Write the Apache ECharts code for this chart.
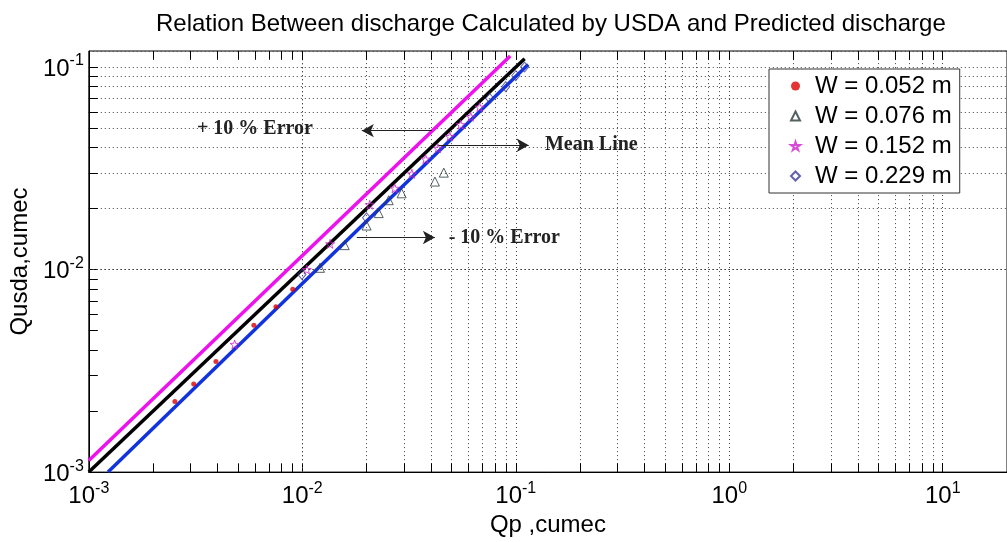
<!DOCTYPE html>
<html>
<head>
<meta charset="utf-8">
<script src="https://cdn.jsdelivr.net/npm/echarts@6/dist/echarts.min.js"></script>
<style>
  html, body { margin: 0; padding: 0; background: #fff; }
  #chart { width: 1007px; height: 542px; }
</style>
</head>
<body>
<div id="chart"></div>
<script>
// W = 0.052 m (red dots)
var w052X = [0.00253, 0.0031, 0.00394, 0.00593, 0.00752, 0.00902];
var w052Y = [0.00223, 0.00272, 0.00352, 0.00531, 0.00655, 0.0080];
// W = 0.076 m (triangles)
var w076X = [0.0121, 0.0158, 0.0200, 0.0228, 0.0254, 0.0292, 0.0418, 0.0460];
var w076Y = [0.0102, 0.0132, 0.0165, 0.0190, 0.0220, 0.0238, 0.0272, 0.0301];
// W = 0.152 m (stars)
var w152X = [0.00482, 0.0105, 0.0135, 0.0207, 0.0271, 0.0326, 0.0378, 0.0432, 0.0491, 0.0552, 0.0615, 0.0677];
var w152Y = [0.00427, 0.0100, 0.0134, 0.0209, 0.0252, 0.0297, 0.0351, 0.0397, 0.0454, 0.0519, 0.0568, 0.0634];
// W = 0.229 m (diamonds)
var w229X = [0.00996, 0.0200, 0.0755, 0.0897, 0.100, 0.110];
var w229Y = [0.00946, 0.0180, 0.0700, 0.0800, 0.0906, 0.100];

// reference lines (end points)
var meanX = [0.001, 0.11];
var meanY = [0.001, 0.11];
var plusX = [0.001, 0.0942];
var plusY = [0.00114, 0.1135];
var minusX = [0.00123, 0.1143];
var minusY = [0.001, 0.1028];

var seriesNames = ["W = 0.052 m", "W = 0.076 m", "W = 0.152 m", "W = 0.229 m"];

// axis ticks / grid
var minorMantissa = [2, 3, 4, 5, 6, 7, 8, 9];
var xDecades = [0.001, 0.01, 0.1, 1, 10];
var yDecades = [0.001, 0.01];
var xMin = 0.001, xMax = 20, yMin = 0.001, yMax = 0.12;
var tickX = 1.102, tickY = 1.105; // tick length as a ratio on the log axes

var font = "Liberation Sans, Arial, sans-serif";
var serif = "Liberation Serif, Times New Roman, serif";
var starPath = "path://M50,0 L61,35 L98,35 L68,57 L79,91 L50,70 L21,91 L32,57 L2,35 L39,35 Z";

function pairs(xs, ys) {
  return xs.map(function(x, i) { return [x, ys[i]]; });
}

function minorValues(decades, max) {
  var out = [];
  decades.forEach(function(d) {
    minorMantissa.forEach(function(m) {
      var v = +(d * m).toPrecision(6);
      if (v < max) out.push(v);
    });
  });
  return out;
}

function powLabel(v) {
  var e = Math.log10(v);
  var r = Math.round(e);
  if (Math.abs(e - r) > 1e-6) return "";
  return "{b|10}{s|" + r + "}";
}

var richLabel = {
  b: { fontSize: 24, fontFamily: font, color: "#000", verticalAlign: "bottom", lineHeight: 28 },
  s: { fontSize: 16, fontFamily: font, color: "#000", verticalAlign: "top", lineHeight: 18 },
};

var gridLine = { color: "#444", width: 1, type: [1, 3] };
var tickLine = { color: "#000", width: 1, type: "solid" };

var xMinor = minorValues(xDecades, xMax);
var yMinor = minorValues(yDecades, yMax);

var gridMarks = [];
xMinor.forEach(function(v) { gridMarks.push({ xAxis: v }); });
yMinor.forEach(function(v) { gridMarks.push({ yAxis: v }); });
// minor ticks on bottom / left, all ticks on top
xMinor.forEach(function(v) {
  gridMarks.push([{ coord: [v, yMin], lineStyle: tickLine }, { coord: [v, yMin * tickY] }]);
});
xMinor.concat(xDecades).forEach(function(v) {
  gridMarks.push([{ coord: [v, yMax], lineStyle: tickLine }, { coord: [v, yMax / tickY] }]);
});
yMinor.forEach(function(v) {
  gridMarks.push([{ coord: [xMin, v], lineStyle: tickLine }, { coord: [xMin * tickX, v] }]);
});

var chart = echarts.init(document.getElementById("chart"));

var option = {
  animation: false,
  backgroundColor: "#fff",
  title: {
    text: "Relation Between discharge Calculated by USDA and Predicted discharge",
    left: 156,
    top: 12,
    padding: 0,
    textStyle: { fontFamily: font, fontSize: 24, fontWeight: "normal", color: "#000" },
  },
  legend: {
    data: seriesNames,
    orient: "vertical",
    left: 769,
    top: 69,
    padding: [5, 8, 5, 21],
    itemGap: 6,
    itemWidth: 9,
    itemHeight: 9,
    backgroundColor: "#fff",
    borderColor: "#333",
    borderWidth: 1,
    borderRadius: 0,
    textStyle: { fontFamily: font, fontSize: 24, color: "#000", lineHeight: 24, padding: [0, 0, 0, 10] },
  },
  grid: {
    left: 87,
    right: 0,
    top: 51,
    bottom: 62,
    show: true,
    borderColor: "#000",
    borderWidth: 1,
  },
  xAxis: {
    type: "log",
    logBase: 10,
    min: xMin,
    max: xMax,
    name: "Qp ,cumec",
    nameLocation: "middle",
    nameGap: 36,
    nameTextStyle: { fontFamily: font, fontSize: 24, color: "#000" },
    axisLine: { show: true, onZero: false, lineStyle: { color: "#000", width: 1 } },
    axisTick: { show: true, inside: true, length: 9, lineStyle: { color: "#000" } },
    axisLabel: { margin: 8, formatter: powLabel, rich: richLabel, showMaxLabel: false },
    splitLine: { show: true, lineStyle: gridLine },
  },
  yAxis: {
    type: "log",
    logBase: 10,
    min: yMin,
    max: yMax,
    name: "Qusda,cumec",
    nameLocation: "middle",
    nameGap: 54,
    nameRotate: 90,
    nameTextStyle: { fontFamily: font, fontSize: 24, color: "#000" },
    axisLine: { show: true, onZero: false, lineStyle: { color: "#000", width: 1 } },
    axisTick: { show: true, inside: true, length: 9, lineStyle: { color: "#000" } },
    axisLabel: { margin: 5, formatter: powLabel, rich: richLabel, showMaxLabel: false },
    splitLine: { show: true, lineStyle: gridLine },
  },
  series: [
    {
      name: "mean",
      type: "line",
      data: pairs(meanX, meanY),
      symbol: "none",
      lineStyle: { color: "#000", width: 3.5 },
      z: 3,
      markLine: {
        silent: true,
        symbol: "none",
        z: 1,
        label: { show: false },
        lineStyle: gridLine,
        data: gridMarks,
      },
    },
    {
      name: "plus",
      type: "line",
      data: pairs(plusX, plusY),
      symbol: "none",
      lineStyle: { color: "#ee11ee", width: 3.5 },
      z: 3,
      markLine: {
        silent: true,
        symbol: ["none", "arrow"],
        symbolSize: [10, 12],
        label: { show: false },
        lineStyle: { color: "#222", width: 1, type: "solid" },
        data: [
          [{ coord: [0.0405, 0.0485] }, { coord: [0.0190, 0.0485] }],
          [{ coord: [0.0435, 0.0411] }, { coord: [0.115, 0.0411] }],
          [{ coord: [0.0180, 0.0144] }, { coord: [0.0418, 0.0144] }],
        ],
      },
    },
    {
      name: "minus",
      type: "line",
      data: pairs(minusX, minusY),
      symbol: "none",
      lineStyle: { color: "#1133dd", width: 3.5 },
      z: 3,
      markPoint: {
        silent: true,
        symbol: "circle",
        symbolSize: 0,
        label: {
          show: true,
          position: "right",
          distance: 0,
          fontFamily: serif,
          fontWeight: "bold",
          fontSize: 20,
          color: "#222",
          formatter: function(p) { return p.name; },
        },
        data: [
          { name: "+ 10 % Error", coord: [0.00321, 0.0495] },
          { name: "Mean Line", coord: [0.137, 0.0411] },
          { name: "- 10 % Error", coord: [0.0485, 0.0144] },
        ],
      },
    },
    {
      name: seriesNames[0],
      type: "scatter",
      data: pairs(w052X, w052Y),
      symbol: "circle",
      symbolSize: 5,
      itemStyle: { color: "#dd0000" },
      z: 4,
    },
    {
      name: seriesNames[1],
      type: "scatter",
      data: pairs(w076X, w076Y),
      symbol: "triangle",
      symbolSize: 9,
      itemStyle: { color: "transparent", borderColor: "#2a3a3a", borderWidth: 1 },
      z: 4,
    },
    {
      name: seriesNames[2],
      type: "scatter",
      data: pairs(w152X, w152Y),
      symbol: starPath,
      symbolSize: 9,
      itemStyle: { color: "transparent", borderColor: "#cc22cc", borderWidth: 1 },
      z: 4,
    },
    {
      name: seriesNames[3],
      type: "scatter",
      data: pairs(w229X, w229Y),
      symbol: "diamond",
      symbolSize: [8, 10],
      itemStyle: { color: "transparent", borderColor: "#3a3a99", borderWidth: 1 },
      z: 4,
    },
  ],
};

chart.setOption(option);
</script>
</body>
</html>
